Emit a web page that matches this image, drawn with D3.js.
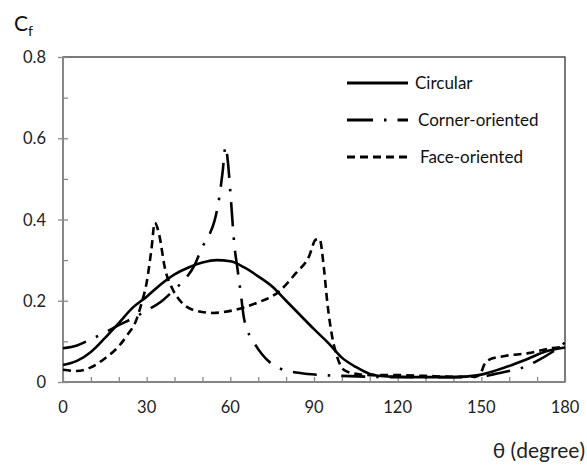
<!DOCTYPE html>
<html>
<head>
<meta charset="utf-8">
<script src="https://cdn.jsdelivr.net/npm/d3@7"></script>
<style>
  html, body { margin: 0; padding: 0; background: #fff; }
  svg { display: block; font-family: Lato, "Open Sans", sans-serif; }
</style>
</head>
<body>
<svg id="chart" width="587" height="468"></svg>
<script>
// Skin-friction coefficient around the cylinder, θ in degrees
const circularTheta = [0, 5, 10, 15, 20, 25, 30, 35, 40, 45, 50, 55, 60, 65, 70, 75, 80, 85, 90, 95, 100, 105, 110, 115, 120, 130, 140, 149, 155, 161, 167, 173, 180];
const circularCf    = [0.042, 0.052, 0.074, 0.108, 0.145, 0.183, 0.21, 0.24, 0.265, 0.282, 0.294, 0.3, 0.297, 0.282, 0.26, 0.235, 0.2, 0.165, 0.13, 0.097, 0.06, 0.037, 0.02, 0.014, 0.013, 0.012, 0.012, 0.017, 0.028, 0.042, 0.058, 0.075, 0.085];

const cornerTheta = [0, 5, 10, 15, 20, 25, 30, 35, 40, 44, 47, 50, 52.5, 54.3, 56, 57.2, 58.3, 59, 60.2, 61.4, 62.6, 63.8, 65, 68.6, 71.5, 77.5, 85, 93, 100, 110, 120, 130, 140, 150, 155, 160, 165, 170, 175, 180];
const cornerCf    = [0.083, 0.09, 0.105, 0.122, 0.14, 0.157, 0.176, 0.197, 0.228, 0.255, 0.285, 0.333, 0.363, 0.396, 0.453, 0.515, 0.58, 0.55, 0.45, 0.34, 0.277, 0.215, 0.153, 0.096, 0.067, 0.034, 0.022, 0.017, 0.015, 0.013, 0.012, 0.012, 0.012, 0.013, 0.02, 0.027, 0.036, 0.052, 0.072, 0.097];

const faceTheta = [0, 5, 10, 15, 20, 23, 26.3, 28, 30, 31.7, 32.9, 34.6, 36.4, 39.4, 42, 46.5, 53.7, 62, 69.2, 77.5, 83.5, 88.2, 90.6, 92, 93.6, 94.8, 96.5, 98.3, 100.7, 105, 110, 120, 130, 140, 148, 150, 151, 152.5, 158.5, 166.8, 175, 180];
const faceCf    = [0.03, 0.027, 0.036, 0.058, 0.088, 0.115, 0.153, 0.19, 0.245, 0.326, 0.392, 0.359, 0.285, 0.227, 0.2, 0.178, 0.17, 0.178, 0.194, 0.223, 0.268, 0.309, 0.35, 0.352, 0.277, 0.194, 0.112, 0.062, 0.03, 0.02, 0.017, 0.017, 0.015, 0.013, 0.013, 0.025, 0.042, 0.054, 0.064, 0.071, 0.083, 0.087];

const seriesNames = ["Circular", "Corner-oriented", "Face-oriented"];
const xTickValues = [0, 30, 60, 90, 120, 150, 180];
const yTickValues = [0, 0.2, 0.4, 0.6, 0.8];

const svg = d3.select("#chart");
const plot = { left: 63, right: 565, top: 57, bottom: 382 };

const x = d3.scaleLinear().domain([0, 180]).range([plot.left, plot.right]);
const y = d3.scaleLinear().domain([0, 0.8]).range([plot.bottom, plot.top]);

// plot-area frame
svg.append("rect")
  .attr("x", plot.left).attr("y", plot.top)
  .attr("width", plot.right - plot.left).attr("height", plot.bottom - plot.top)
  .attr("fill", "none").attr("stroke", "#222").attr("stroke-width", 1.2);

// x axis: minor ticks every 10°, pointing into the plot
const xAxis = d3.axisBottom(x).tickValues(d3.range(0, 181, 10)).tickSize(-5).tickFormat("");
const gx = svg.append("g").attr("transform", `translate(0,${plot.bottom})`).call(xAxis);
gx.selectAll("path, line").attr("stroke", "#8a8a8a").attr("stroke-width", 1.3);
gx.select(".domain").attr("d", `M${plot.left},0H${plot.right}`);

svg.append("g").selectAll("text").data(xTickValues).join("text")
  .attr("x", d => x(d)).attr("y", 413)
  .attr("text-anchor", "middle").attr("font-size", 16.5).attr("fill", "#222")
  .text(d => d);

// y axis: major ticks cross the axis, minor ticks inside
const yMinor = d3.axisLeft(y).tickValues([0.1, 0.3, 0.5, 0.7]).tickSize(-5).tickFormat("");
const gyMinor = svg.append("g").attr("transform", `translate(${plot.left},0)`).call(yMinor);
const yMajor = d3.axisLeft(y).tickValues(yTickValues).tickSize(5).tickFormat("");
const gy = svg.append("g").attr("transform", `translate(${plot.left},0)`).call(yMajor);
gy.selectAll(".tick line").attr("x2", 5).attr("x1", -5);
[gyMinor, gy].forEach(g => {
  g.selectAll("path, line").attr("stroke", "#8a8a8a").attr("stroke-width", 1.3);
  g.select(".domain").attr("d", `M0,${plot.top}V${plot.bottom}`);
});

svg.append("g").selectAll("text").data(yTickValues).join("text")
  .attr("x", 46).attr("y", d => y(d) + 6)
  .attr("text-anchor", "end").attr("font-size", 16.5).attr("fill", "#222")
  .text(d => d === 0 ? "0" : d.toFixed(1));

// axis titles
const cf = svg.append("text").attr("x", 14).attr("y", 31).attr("fill", "#111");
cf.append("tspan").attr("font-size", 21).text("C");
cf.append("tspan").attr("font-size", 14).attr("dy", 5).text("f");

svg.append("text").attr("x", 585).attr("y", 458)
  .attr("text-anchor", "end").attr("font-size", 21).attr("fill", "#222")
  .text("θ (degree)");

// curves
const styles = [
  { dash: null },
  { dash: "24,11,2.5,11" },
  { dash: "8,5" }
];
const series = [
  { name: seriesNames[0], pts: circularTheta.map((t, i) => [t, circularCf[i]]), style: styles[0] },
  { name: seriesNames[1], pts: cornerTheta.map((t, i) => [t, cornerCf[i]]), style: styles[1] },
  { name: seriesNames[2], pts: faceTheta.map((t, i) => [t, faceCf[i]]), style: styles[2] }
];

const line = d3.line().x(d => x(d[0])).y(d => y(d[1])).curve(d3.curveMonotoneX);

svg.append("g").selectAll("path").data(series).join("path")
  .attr("d", d => line(d.pts))
  .attr("fill", "none").attr("stroke", "#000").attr("stroke-width", 2.6)
  .attr("stroke-dasharray", d => d.style.dash);

// legend
const legendY = [83, 120, 157];
const textX = [415, 418, 420];
const lg = svg.append("g");
series.forEach((s, i) => {
  lg.append("line")
    .attr("x1", 347).attr("x2", 408).attr("y1", legendY[i]).attr("y2", legendY[i])
    .attr("stroke", "#000").attr("stroke-width", 2.8)
    .attr("stroke-dasharray", i === 1 ? "26,11,2.5,11" : s.style.dash);
  lg.append("text").attr("x", textX[i]).attr("y", legendY[i] + 6)
    .attr("font-size", 17).attr("fill", "#111").text(s.name);
});
</script>
</body>
</html>
